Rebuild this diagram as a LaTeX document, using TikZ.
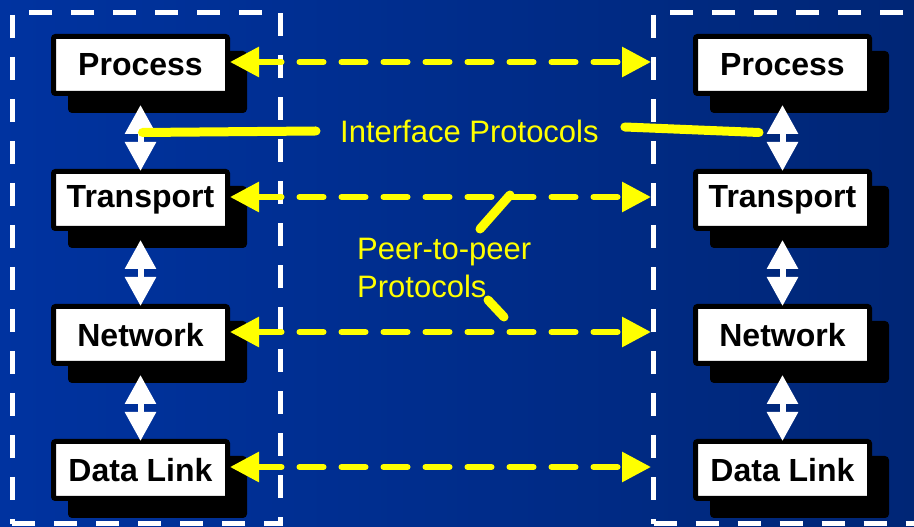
\documentclass[tikz,border=0pt]{standalone}
\usepackage{fontspec}
\setmainfont{Liberation Sans}
\usetikzlibrary{arrows.meta, positioning, shadows, calc}
\definecolor{slideleft}{RGB}{0, 51, 160}
\definecolor{slideright}{RGB}{0, 38, 118}
\definecolor{note}{RGB}{255, 255, 0}

\begin{document}
\begin{tikzpicture}[
        x=1pt, y=1pt,
        node distance=73pt and 463pt,
        layer/.style={rectangle, rounded corners=2pt, draw=black, line width=5pt, fill=white,
                      minimum width=174pt, minimum height=57pt, inner sep=0pt,
                      font=\fontsize{32}{37}\selectfont\bfseries,
                      general shadow={fill=black, draw=black, shadow xshift=17pt, shadow yshift=-17pt}},
        host/.style={rectangle, draw=white, line width=5pt, dash pattern=on 23pt off 19pt,
                     minimum width=268pt, minimum height=511.5pt, inner sep=0pt},
        protolabel/.style={text=note, inner sep=0pt, font=\fontsize{31}{38}\selectfont},
        iface/.style={white, line width=6pt, {Triangle[length=29pt, width=30pt]}-{Triangle[length=29pt, width=30pt]},
                      shorten <=9pt, shorten >=-2pt},
        peer/.style={note, line width=6pt, line cap=round, dash pattern=on 24pt off 18pt,
                     {Triangle[length=29pt, width=29pt]}-{Triangle[length=29pt, width=29pt]}},
        pointer/.style={note, line width=9pt, line cap=round},
    ]
        \useasboundingbox (0,0) rectangle (914,527);
        \clip (0,0) rectangle (914,527);
        \shade[left color=slideleft, right color=slideright] (0,0) rectangle (914,527);

        % ===== the two hosts =====
        \node[host] (hostL) at (146,258.75) {};
        \node[host] (hostR) at (787.5,258.75) {};

        \node[layer] (procL) at (140.5,462) {Process};
        \node[layer, below=of procL] (transL) {Transport};
        \node[layer, below=of transL] (netL) {Network};
        \node[layer, below=of netL] (dlL) {Data Link};

        \node[layer, right=of procL] (procR) {Process};
        \node[layer, right=of transL] (transR) {Transport};
        \node[layer, right=of netL] (netR) {Network};
        \node[layer, right=of dlL] (dlR) {Data Link};

        % peer-to-peer links
        \draw[peer] ([yshift=3pt]procL.east) -- ([yshift=3pt]procL.east -| hostR.west);
        \draw[peer] ([yshift=3pt]transL.east) -- ([yshift=3pt]transL.east -| hostR.west);
        \draw[peer] ([yshift=3pt]netL.east) -- ([yshift=3pt]netL.east -| hostR.west);
        \draw[peer] ([yshift=3pt]dlL.east) -- ([yshift=3pt]dlL.east -| hostR.west);

        % interfaces between layers
        \draw[iface] (procL) -- (transL);
        \draw[iface] (transL) -- (netL);
        \draw[iface] (netL) -- (dlL);
        \draw[iface] (procR) -- (transR);
        \draw[iface] (transR) -- (netR);
        \draw[iface] (netR) -- (dlR);

        % labels
        \node[protolabel, anchor=west] (ifc) at (340,396) {Interface Protocols};
        \node[protolabel, anchor=north west, align=left] (p2p) at (357,289) {Peer-to-peer\\Protocols};

        \draw[pointer] ([xshift=2pt]$(procL.south)!0.5!(transL.north)$) -- ([xshift=-24pt]ifc.west);
        \draw[pointer] ([xshift=26pt, yshift=4pt]ifc.east) -- ([xshift=-23.5pt]$(procR.south)!0.5!(transR.north)$);
        \draw[pointer] ([shift={(123pt,9pt)}]p2p.north west) -- ++(30,34);
        \draw[pointer] ([shift={(131pt,-62pt)}]p2p.north west) -- ++(16,-17);

    \end{tikzpicture}
\end{document}
